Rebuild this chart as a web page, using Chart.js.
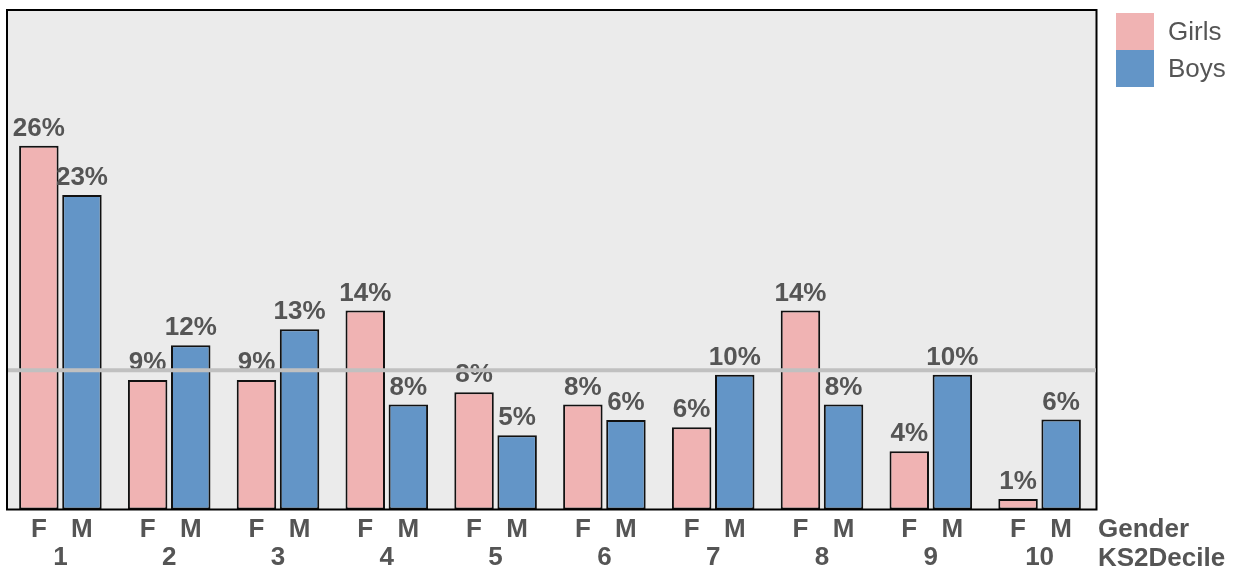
<!DOCTYPE html>
<html>
<head>
<meta charset="utf-8">
<script src="https://cdn.jsdelivr.net/npm/chart.js@4/dist/chart.umd.min.js"></script>
<style>
    html, body { margin: 0; padding: 0; background: #fff; }
    #wrap { position: relative; width: 1245px; height: 571px; }
    #legend {
        position: absolute; left: 1116px; top: 13px;
        font-family: "Liberation Sans", Arial, sans-serif; font-size: 26px; color: #555;
    }
    .item { display: flex; align-items: center; height: 37px; }
    .box { width: 38px; height: 37px; margin-right: 14px; box-sizing: border-box; }
</style>
</head>
<body>
<div id="wrap">
    <canvas id="grafico" width="1245" height="571"></canvas>
    <div id="legend"></div>
</div>
<script>
// --- datos ---
const deciles = ['1', '2', '3', '4', '5', '6', '7', '8', '9', '10'];
const genderCodes = ['F', 'M'];
const seriesNames = ['Girls', 'Boys'];
const girls = [26.15, 9.3, 9.3, 14.3, 8.43, 7.54, 5.91, 14.3, 4.19, 0.76];
const boys = [22.6, 11.8, 12.96, 7.54, 5.34, 6.44, 9.68, 7.54, 9.68, 6.46];
const refValue = 10;      // linea gris de referencia
const yMax = 35.9;
const axisTitles = ['Gender', 'KS2Decile'];

const colores = ['#f0b3b3', '#6395c7'];
const fontFamily = '"Liberation Sans", Arial, sans-serif';
const textColor = '#555';

// leyenda en HTML
const legendEl = document.getElementById('legend');
seriesNames.forEach((name, i) => {
    const item = document.createElement('div');
    item.className = 'item';
    item.innerHTML = `<div class="box" style="background:${colores[i]}"></div><span>${name}</span>`;
    legendEl.appendChild(item);
});

const decor = {
    id: 'decor',
    beforeDatasetsDraw(chart) {
        const { ctx, chartArea: a } = chart;
        ctx.save();
        ctx.fillStyle = '#ebebeb';
        ctx.fillRect(a.left, a.top, a.right - a.left + 2, a.bottom - a.top);
        ctx.restore();
    },
    afterDatasetsDraw(chart) {
        const { ctx, chartArea: a } = chart;
        ctx.save();
        ctx.font = `bold 26px ${fontFamily}`;
        ctx.fillStyle = textColor;
        ctx.textAlign = 'center';
        ctx.textBaseline = 'alphabetic';
        chart.data.datasets.forEach((ds, di) => {
            const meta = chart.getDatasetMeta(di);
            meta.data.forEach((bar, i) => {
                ctx.fillText(Math.round(ds.data[i]) + '%', bar.x, bar.y - 10);
                ctx.fillText(genderCodes[di], bar.x, a.bottom + 27.5);
            });
        });
        ctx.textAlign = 'left';
        ctx.fillText(axisTitles[0], a.right + 4, a.bottom + 27.5);
        ctx.fillText(axisTitles[1], a.right + 4, a.bottom + 56.5);

        // borde del area
        ctx.strokeStyle = '#000';
        ctx.lineWidth = 2;
        ctx.strokeRect(a.left + 1, a.top, a.right - a.left + 1.5, a.bottom - a.top);
        ctx.restore();
    },
    afterDraw(chart) {
        const { ctx, chartArea: a, scales } = chart;
        const y = scales.y.getPixelForValue(refValue);
        ctx.save();
        ctx.strokeStyle = '#c0c0c0';
        ctx.lineWidth = 4;
        ctx.beginPath();
        ctx.moveTo(a.left + 2, y);
        ctx.lineTo(a.right + 2, y);
        ctx.stroke();
        ctx.restore();
    }
};

new Chart(document.getElementById('grafico'), {
    type: 'bar',
    data: {
        labels: deciles,
        datasets: [
            { label: seriesNames[0], data: girls, backgroundColor: colores[0], borderColor: '#111', borderWidth: 2, borderSkipped: false },
            { label: seriesNames[1], data: boys, backgroundColor: colores[1], borderColor: '#111', borderWidth: 2, borderSkipped: false }
        ]
    },
    options: {
        responsive: false,
        animation: false,
        events: [],
        layout: { padding: { left: 6, right: 151, top: 10, bottom: 0 } },
        datasets: { bar: { categoryPercentage: 0.792, barPercentage: 0.916 } },
        plugins: { legend: { display: false }, tooltip: { enabled: false } },
        scales: {
            x: {
                grid: { display: false, drawTicks: false },
                border: { display: false },
                ticks: { color: textColor, font: { family: fontFamily, size: 26, weight: 'bold' }, padding: 33, maxRotation: 0 },
                afterFit: s => { s.height = 61.5; }
            },
            y: { display: false, min: 0, max: yMax }
        }
    },
    plugins: [decor]
});
</script>
</body>
</html>
